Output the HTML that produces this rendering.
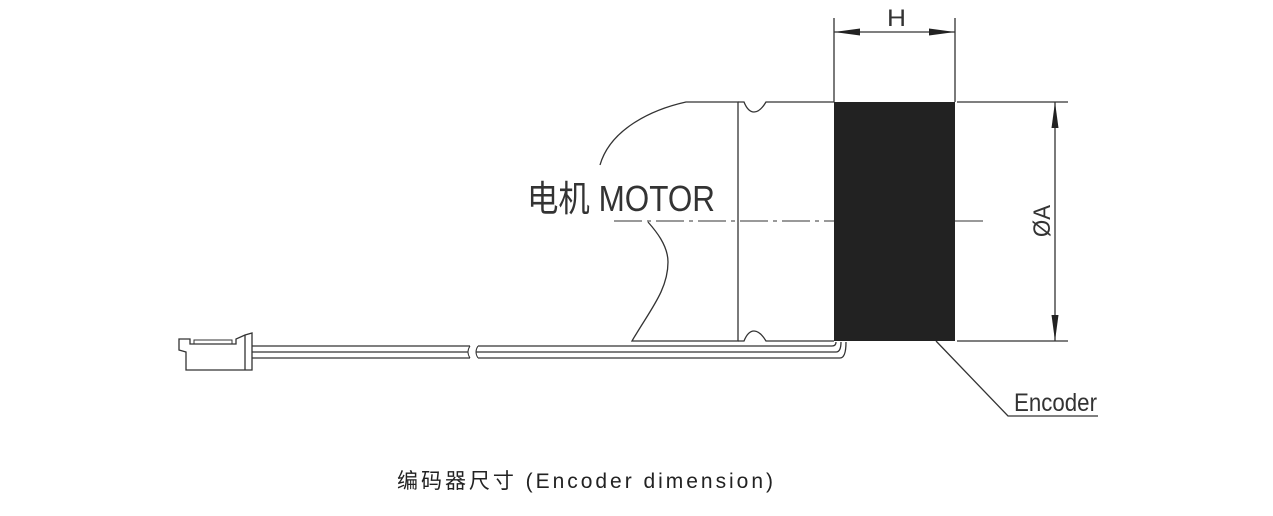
<!DOCTYPE html>
<html><head><meta charset="utf-8"><style>
html,body{margin:0;padding:0;background:#fff;}
svg{display:block;}
</style></head><body>
<svg width="1273" height="516" viewBox="0 0 1273 516" xmlns="http://www.w3.org/2000/svg">
<g fill="none" stroke="#333" stroke-width="1.3">
<path d="M600,165 C610,130 650,110 686,102 L738,102 L738,341 L632,341 C650,310 668,290 668,262 C668,245 655,230 648,222"/>
<path d="M738,102 L744,102 Q748,112 754,112 Q760,112 766,102 L834,102"/>
<path d="M738,341 L744,341 Q748,331 754,331 Q760,331 766,341 L834,341"/>
<path d="M614,221 L834,221 M955,221 L985,221" stroke-dasharray="28,5,4,5" stroke-width="1"/>
<path d="M252,346 L470,346 M478,346 L832,346 Q836,346 836,342"/>
<path d="M252,352 L468,352 M476,352 L836,352 Q841,352 841,342"/>
<path d="M252,358 L470,358 M478,358 L840,358 Q846,358 846,342"/>
<path d="M470,346 Q466,352 470,358 M478,346 Q474,352 478,358" stroke-width="1"/>
<path d="M252,333 L252,370 L186,370 L186,352 L179,350 L179,339 L190,339 L190,344 L236,344 L236,339 L245,335 Z"/>
<path d="M194,344 L194,340 L232,340 L232,344" stroke-width="1"/>
<path d="M245,335 L245,370"/>
<path d="M834,18 L834,102 M955,18 L955,102 M834,32 L955,32"/>
<path d="M957,102 L1068,102 M957,341 L1068,341 M1055,102 L1055,341"/>
<path d="M936,341 L1008,416 L1098,416"/>
</g>
<g fill="#222">
<polygon points="834,32 860,28.5 860,35.5"/>
<polygon points="955,32 929,28.5 929,35.5"/>
<polygon points="1055,102 1051.5,128 1058.5,128"/>
<polygon points="1055,341 1051.5,315 1058.5,315"/>
<rect x="834" y="102" width="121" height="239"/>
</g>
<g font-family="'Liberation Sans','Noto Sans CJK SC',sans-serif" fill="#333">
<text x="887" y="26" font-size="24" textLength="19" lengthAdjust="spacingAndGlyphs">H</text>
<text transform="translate(1050,221) rotate(-90)" font-size="24" text-anchor="middle" textLength="32" lengthAdjust="spacingAndGlyphs">ØA</text>
<text x="1014" y="411" font-size="25" textLength="83" lengthAdjust="spacingAndGlyphs">Encoder</text>
<text x="527" y="211" font-size="36" textLength="188" lengthAdjust="spacingAndGlyphs">电机 MOTOR</text>
<text x="397" y="488" font-size="21" fill="#222" textLength="376" lengthAdjust="spacing">编码器尺寸 (Encoder dimension)</text>
</g>
</svg>
</body></html>
